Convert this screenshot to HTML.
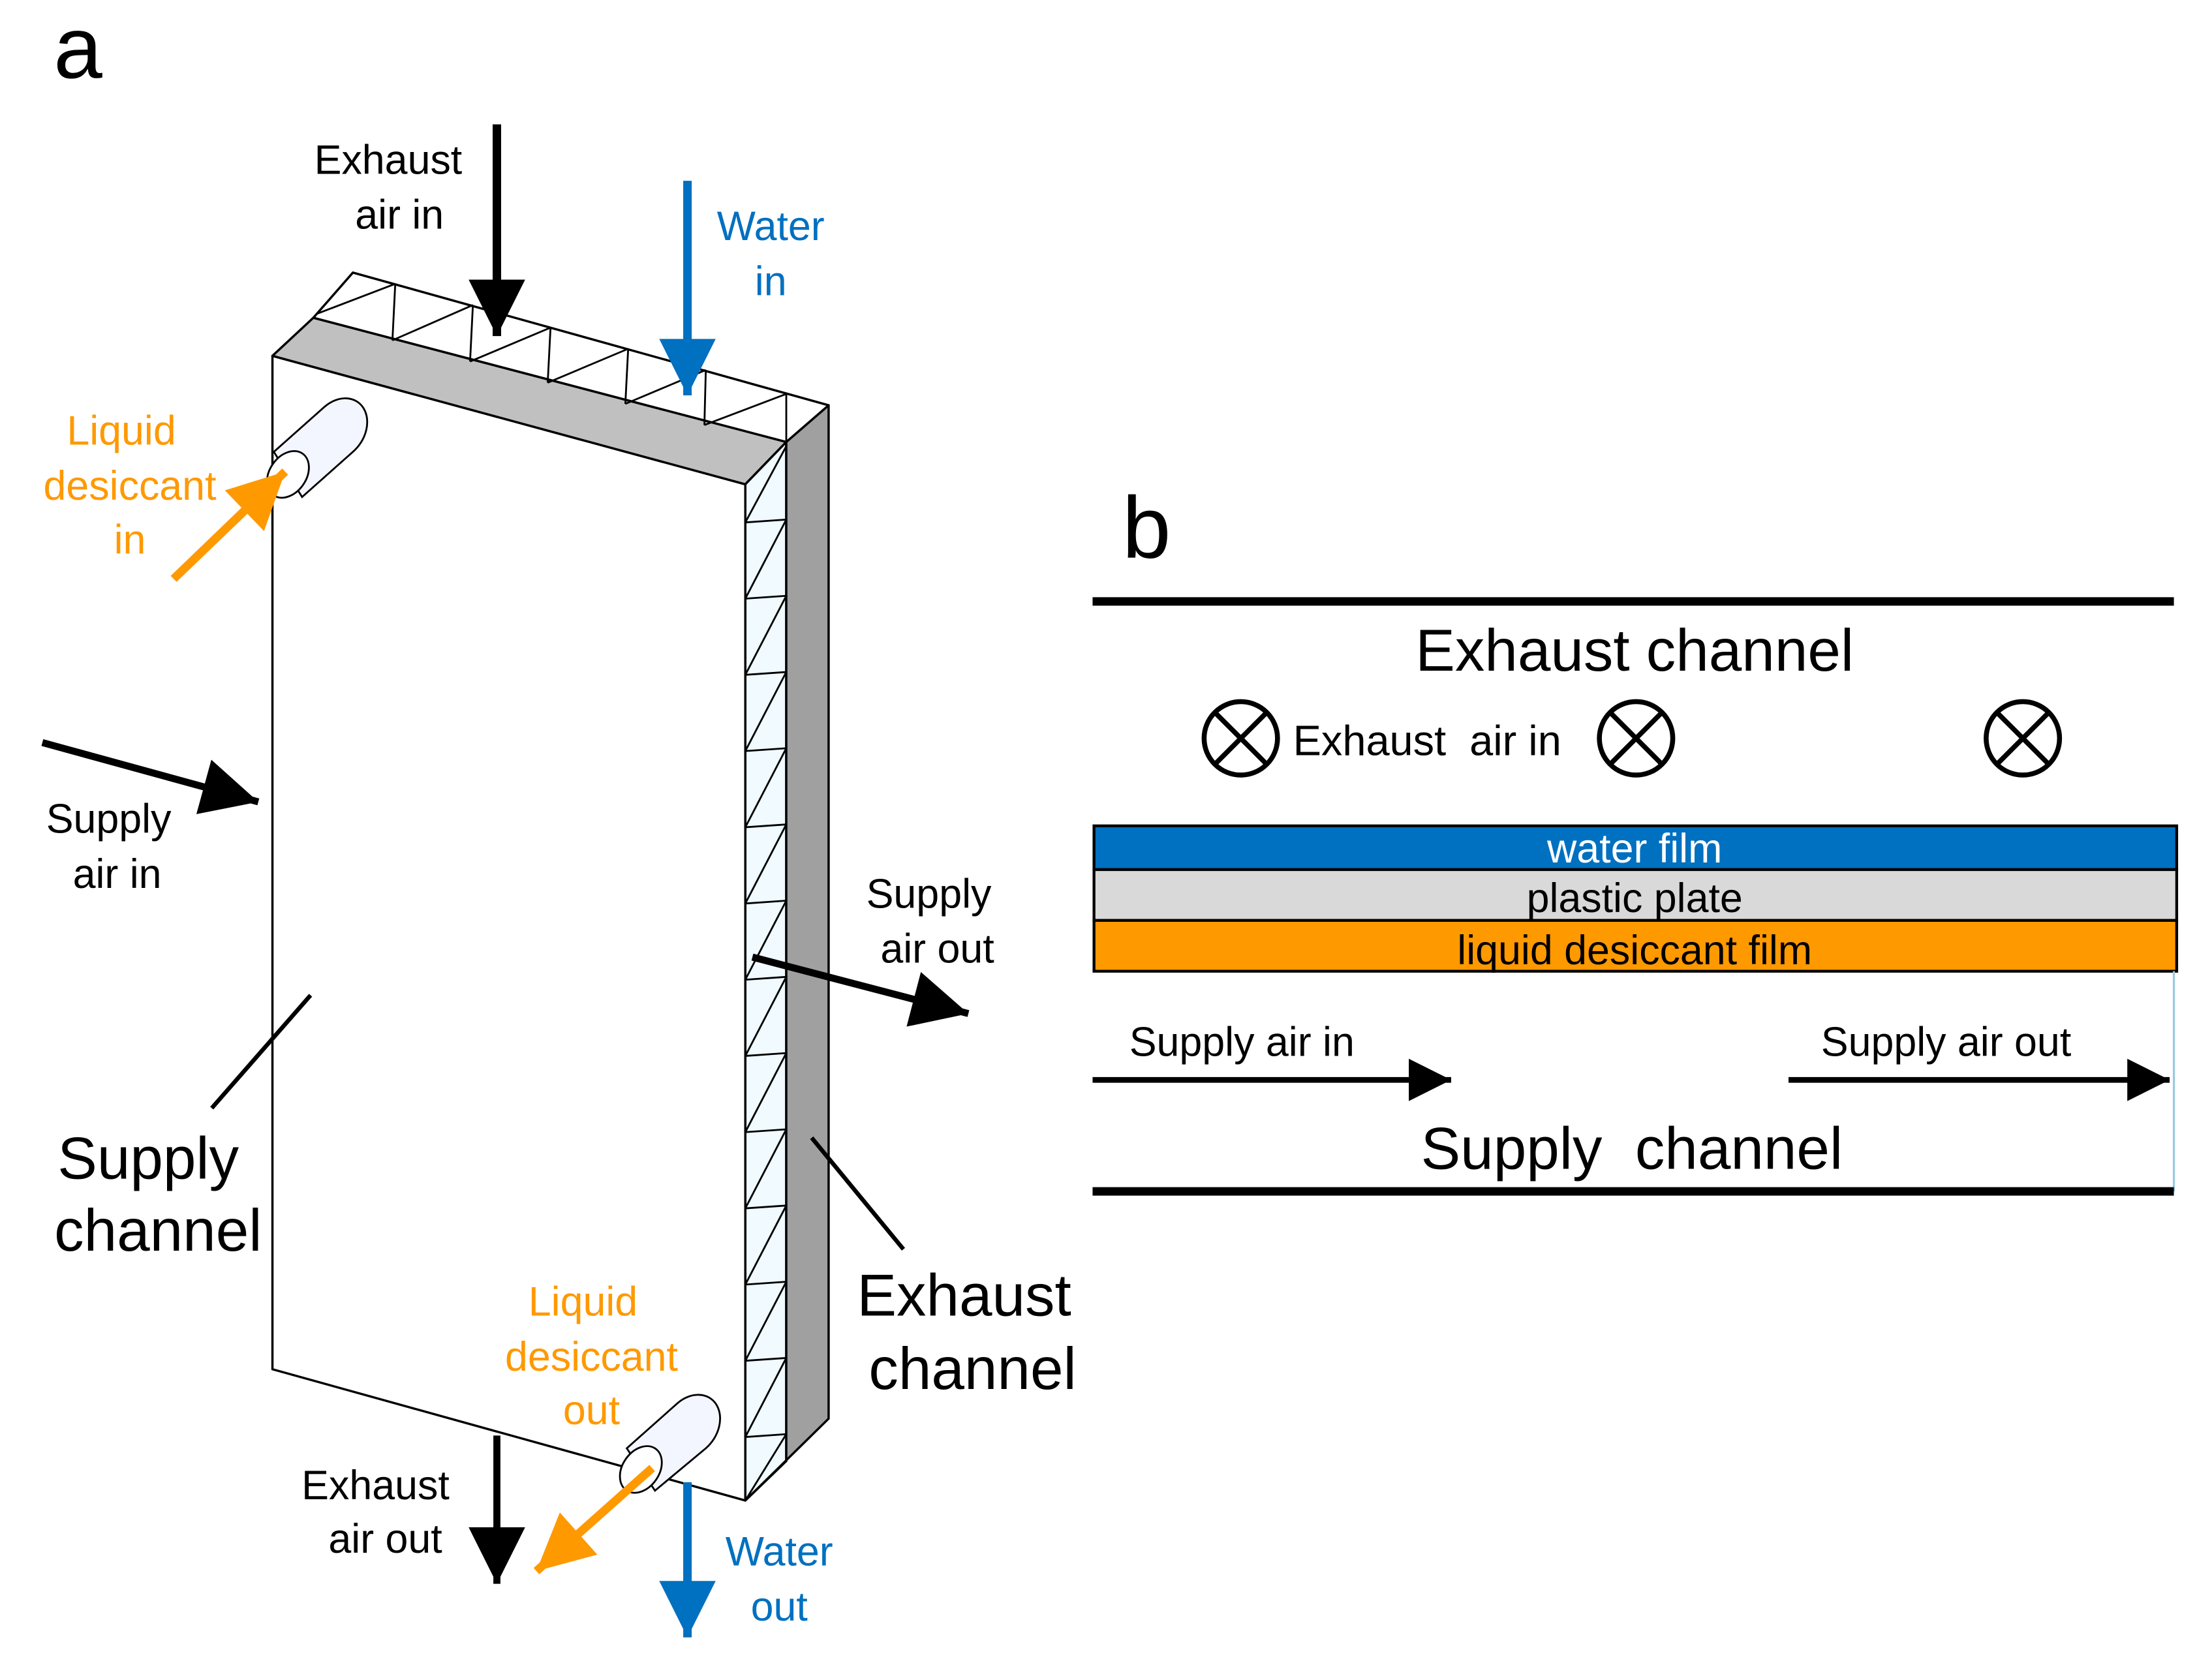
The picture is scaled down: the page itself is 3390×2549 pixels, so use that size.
<!DOCTYPE html>
<html><head><meta charset="utf-8"><style>
html,body{margin:0;padding:0;background:#fff;}
svg{display:block;}
text{font-family:"Liberation Sans",Arial,sans-serif;}
</style></head><body>
<svg width="3390" height="2549" viewBox="0 0 1567 1178" xmlns="http://www.w3.org/2000/svg">
<defs>
<marker id="hb" viewBox="0 0 10 10" refX="10" refY="5" markerWidth="44" markerHeight="40" orient="auto" markerUnits="userSpaceOnUse"><path d="M0,0 L10,5 L0,10 z" fill="#000"/></marker>
<marker id="hbl" viewBox="0 0 10 10" refX="10" refY="5" markerWidth="44" markerHeight="40" orient="auto" markerUnits="userSpaceOnUse"><path d="M0,0 L10,5 L0,10 z" fill="#0070c0"/></marker>
<marker id="ho" viewBox="0 0 10 10" refX="10" refY="5" markerWidth="42" markerHeight="40" orient="auto" markerUnits="userSpaceOnUse"><path d="M0,0 L10,5 L0,10 z" fill="#ff9900"/></marker>
<marker id="hs" viewBox="0 0 10 10" refX="10" refY="5" markerWidth="32" markerHeight="30" orient="auto" markerUnits="userSpaceOnUse"><path d="M0,0 L10,5 L0,10 z" fill="#000"/></marker>
</defs>
<rect width="1567" height="1178" fill="#fff"/>
<text x="38" y="55" font-size="62">a</text>
<g stroke="#000" stroke-width="1.6" stroke-linejoin="round">
<polygon points="193,252 528,343 528,1063 193,970" fill="#fff"/>
<polygon points="193,252 222,225 557,313 528,343" fill="#c0c0c0"/>
<polygon points="528,343 557,313 557,1035 528,1063" fill="#f0faff"/>
<polygon points="557,313 587,287 587,1005 528,1063 557,1035" fill="#a0a0a0"/>
<polygon points="222,225 250,193 587,287 557,313" fill="#fff"/>
</g>
<g stroke="#000" stroke-width="1.3" fill="none">
<path d="M280,201 L278,241 M335,216 L333,256 M390,232 L388,271 M445,247 L443,286 M500,262 L499,301 M557,279 L557,313"/>
<path d="M225,222 L280,201 M278,241 L335,216 M333,256 L390,232 M388,271 L445,247 M443,286 L500,262 M499,301 L557,279"/>
<path d="M528,370 L557,368 M528,424 L557,422 M528,478 L557,476 M528,532 L557,530 M528,586 L557,584 M528,640 L557,638 M528,694 L557,692 M528,748 L557,746 M528,802 L557,800 M528,856 L557,854 M528,910 L557,908 M528,964 L557,962 M528,1018 L557,1016"/>
<path d="M528,370 L557,316 M528,424 L557,368 M528,478 L557,422 M528,532 L557,476 M528,586 L557,530 M528,640 L557,584 M528,694 L557,638 M528,748 L557,692 M528,802 L557,746 M528,856 L557,800 M528,910 L557,854 M528,964 L557,908 M528,1018 L557,962 M528,1063 L557,1016"/>
</g>
<g stroke="#000" stroke-width="1.3" fill="#fff">
<path d="M194,320 L230,288 A14,18 35 0 1 250,320 L214,352 Z" fill="#f4f6ff"/>
<ellipse cx="204" cy="336" rx="13" ry="18" transform="rotate(35 204 336)"/>
<path d="M444,1026 L480,994 A14,18 35 0 1 500,1026 L464,1056 Z" fill="#f4f6ff"/>
<ellipse cx="454" cy="1041" rx="13" ry="18" transform="rotate(35 454 1041)"/>
</g>
<line x1="352" y1="88" x2="352" y2="238" stroke="#000" stroke-width="6" marker-end="url(#hb)"/>
<line x1="487" y1="128" x2="487" y2="280" stroke="#0070c0" stroke-width="6" marker-end="url(#hbl)"/>
<line x1="123" y1="410" x2="202" y2="334" stroke="#ff9900" stroke-width="6" marker-end="url(#ho)"/>
<line x1="30" y1="526" x2="183" y2="568" stroke="#000" stroke-width="5" marker-end="url(#hb)"/>
<line x1="533" y1="678" x2="686" y2="718" stroke="#000" stroke-width="5" marker-end="url(#hb)"/>
<line x1="352" y1="1017" x2="352" y2="1122" stroke="#000" stroke-width="5" marker-end="url(#hb)"/>
<line x1="462" y1="1040" x2="380" y2="1113" stroke="#ff9900" stroke-width="6" marker-end="url(#ho)"/>
<line x1="487" y1="1050" x2="487" y2="1160" stroke="#0070c0" stroke-width="6" marker-end="url(#hbl)"/>
<line x1="220" y1="705" x2="150" y2="785" stroke="#000" stroke-width="3"/>
<line x1="575" y1="806" x2="640" y2="885" stroke="#000" stroke-width="3"/>
<g font-size="29" text-anchor="middle">
<text x="275" y="123">Exhaust</text><text x="283" y="162">air in</text>
<text x="546" y="170" fill="#0070c0">Water</text><text x="546" y="209" fill="#0070c0">in</text>
<text x="86" y="315" fill="#ff9900">Liquid</text><text x="92" y="354" fill="#ff9900">desiccant</text><text x="92" y="392" fill="#ff9900">in</text>
<text x="77" y="590">Supply</text><text x="83" y="629">air in</text>
<text x="658" y="643">Supply</text><text x="664" y="682">air out</text>
<text x="413" y="932" fill="#ff9900">Liquid</text><text x="419" y="971" fill="#ff9900">desiccant</text><text x="419" y="1009" fill="#ff9900">out</text>
<text x="266" y="1062">Exhaust</text><text x="273" y="1100">air out</text>
<text x="552" y="1109" fill="#0070c0">Water</text><text x="552" y="1148" fill="#0070c0">out</text>
</g>
<g font-size="42" text-anchor="middle">
<text x="105" y="835">Supply</text><text x="112" y="886">channel</text>
<text x="683" y="932">Exhaust</text><text x="689" y="984">channel</text>
</g>
<text x="795" y="395" font-size="62">b</text>
<line x1="774" y1="426" x2="1540" y2="426" stroke="#000" stroke-width="6"/>
<text x="1158" y="475" font-size="42" text-anchor="middle">Exhaust  channel</text>
<g stroke="#000" stroke-width="3.5" fill="none">
<circle cx="879" cy="523" r="26"/><path d="M861,505 L897,541 M897,505 L861,541"/>
<circle cx="1159" cy="523" r="26"/><path d="M1141,505 L1177,541 M1177,505 L1141,541"/>
<circle cx="1433" cy="523" r="26"/><path d="M1415,505 L1451,541 M1451,505 L1415,541"/>
</g>
<text x="916" y="535" font-size="30" xml:space="preserve">Exhaust  air in</text>
<rect x="775" y="585" width="767" height="31" fill="#0070c0" stroke="#000" stroke-width="2"/>
<rect x="775" y="616" width="767" height="36" fill="#d9d9d9" stroke="#000" stroke-width="2"/>
<rect x="775" y="652" width="767" height="36" fill="#ff9900" stroke="#000" stroke-width="2"/>
<g font-size="29" text-anchor="middle">
<text x="1158" y="611" fill="#fff">water film</text>
<text x="1158" y="646">plastic plate</text>
<text x="1158" y="683">liquid desiccant film</text>
</g>
<line x1="1540" y1="688" x2="1540" y2="844" stroke="#9cc8e0" stroke-width="1.5"/>
<text x="800" y="748" font-size="29">Supply air in</text>
<text x="1290" y="748" font-size="29">Supply air out</text>
<line x1="774" y1="765" x2="1028" y2="765" stroke="#000" stroke-width="4" marker-end="url(#hs)"/>
<line x1="1267" y1="765" x2="1537" y2="765" stroke="#000" stroke-width="4" marker-end="url(#hs)"/>
<text x="1156" y="828" font-size="42" text-anchor="middle" xml:space="preserve">Supply  channel</text>
<line x1="774" y1="844" x2="1540" y2="844" stroke="#000" stroke-width="6"/>
</svg>
</body></html>
